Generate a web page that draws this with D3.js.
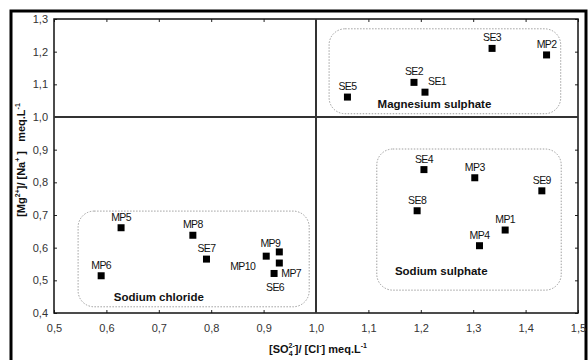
<!DOCTYPE html>
<html>
<head>
<meta charset="utf-8">
<script src="https://cdn.jsdelivr.net/npm/d3@7"></script>
<style>
  body { margin: 0; background: #fff; }
  svg { display: block; font-family: "Liberation Sans", Arial, sans-serif; }
</style>
</head>
<body>
<div id="wrapper"></div>
<script>
// sample names and ratios
const names = ["SE1","SE2","SE3","SE5","MP2",
               "SE4","MP3","SE9","SE8","MP1","MP4",
               "MP5","MP6","MP8","SE7","MP10","MP9","MP7","SE6"];
const so4cl = [1.208,1.187,1.336,1.060,1.440,
               1.206,1.303,1.431,1.193,1.361,1.312,
               0.628,0.590,0.765,0.791,0.905,0.930,0.930,0.920];
const mgna  = [1.076,1.106,1.210,1.061,1.190,
               0.839,0.814,0.774,0.713,0.654,0.606,
               0.661,0.514,0.638,0.565,0.574,0.587,0.553,0.521];

const xTicks = [0.5,0.6,0.7,0.8,0.9,1.0,1.1,1.2,1.3,1.4,1.5];
const yTicks = [0.4,0.5,0.6,0.7,0.8,0.9,1.0,1.1,1.2,1.3];

// grouping boxes (data units) and their captions
const groupNames = ["Magnesium sulphate","Sodium sulphate","Sodium chloride"];
const groupX = [[1.025,1.467],[1.116,1.468],[0.546,0.987]];
const groupY = [[1.010,1.270],[0.470,0.902],[0.419,0.712]];
const groupLabelX = [1.226,1.239,0.700];
const groupLabelY = [1.027,0.516,0.437];

const data = names.map((n, i) => ({name: n, x: so4cl[i], y: mgna[i]}));

const width = 588, height = 360;
const margin = {top: 19, right: 10, bottom: 47, left: 54};
const boundedWidth = 524, boundedHeight = 294;

const svg = d3.select("#wrapper").append("svg")
    .attr("width", width)
    .attr("height", height);

// outer frame
svg.append("rect")
    .attr("x", 11).attr("y", 11)
    .attr("width", 575).attr("height", 420)
    .attr("fill", "none")
    .attr("stroke", "#000")
    .attr("stroke-width", 3);

const bounded = svg.append("g")
    .attr("transform", `translate(${margin.left},${margin.top})`);

const xScale = d3.scaleLinear().domain([0.5, 1.5]).range([0, boundedWidth]);
const yScale = d3.scaleLinear().domain([0.4, 1.3]).range([boundedHeight, 0]);

const fmt = d => d3.format(".1f")(d).replace(".", ",");

// axes, ticks pointing inwards
const xAxis = bounded.append("g")
    .attr("transform", `translate(0,${boundedHeight})`)
    .call(d3.axisBottom(xScale).tickValues(xTicks).tickFormat(fmt)
        .tickSizeInner(-3).tickSizeOuter(0).tickPadding(11));
const yAxis = bounded.append("g")
    .call(d3.axisLeft(yScale).tickValues(yTicks).tickFormat(fmt)
        .tickSizeInner(-3).tickSizeOuter(0).tickPadding(6));
const xTop = bounded.append("g")
    .call(d3.axisTop(xScale).tickValues(xTicks).tickFormat("")
        .tickSizeInner(-3).tickSizeOuter(0));
const yRight = bounded.append("g")
    .attr("transform", `translate(${boundedWidth},0)`)
    .call(d3.axisRight(yScale).tickValues(yTicks).tickFormat("")
        .tickSizeInner(-3).tickSizeOuter(0));

[xAxis, yAxis, xTop, yRight].forEach(a => {
    a.select(".domain").remove();
    a.selectAll(".tick line").attr("stroke", "#222");
    a.selectAll(".tick text")
        .attr("fill", "#333")
        .style("font-size", "11px")
        .style("font-family", "'Liberation Sans', Arial, sans-serif");
});

// plot frame
bounded.append("rect")
    .attr("width", boundedWidth).attr("height", boundedHeight)
    .attr("fill", "none")
    .attr("stroke", "#111")
    .attr("stroke-width", 1.5);

// reference lines at 1,0
bounded.append("line")
    .attr("x1", xScale(1)).attr("x2", xScale(1))
    .attr("y1", 0).attr("y2", boundedHeight)
    .attr("stroke", "#333").attr("stroke-width", 2);
bounded.append("line")
    .attr("x1", 0).attr("x2", boundedWidth)
    .attr("y1", yScale(1)).attr("y2", yScale(1))
    .attr("stroke", "#333").attr("stroke-width", 2);

// dotted group boxes
groupNames.forEach((g, i) => {
    const x0 = xScale(groupX[i][0]), x1 = xScale(groupX[i][1]);
    const y0 = yScale(groupY[i][1]), y1 = yScale(groupY[i][0]);
    bounded.append("rect")
        .attr("x", x0).attr("y", y0)
        .attr("width", x1 - x0).attr("height", y1 - y0)
        .attr("rx", 16).attr("ry", 16)
        .attr("fill", "none")
        .attr("stroke", "#888")
        .attr("stroke-width", 0.8)
        .attr("stroke-dasharray", "1.5,1.5");
    bounded.append("text")
        .attr("x", xScale(groupLabelX[i]))
        .attr("y", yScale(groupLabelY[i]))
        .attr("text-anchor", "middle")
        .attr("font-size", 11.5)
        .attr("font-weight", "bold")
        .attr("fill", "#111")
        .text(g);
});

// points
bounded.selectAll(".pt").data(data).join("rect")
    .attr("class", "pt")
    .attr("x", d => xScale(d.x) - 3.5)
    .attr("y", d => yScale(d.y) - 3.5)
    .attr("width", 7).attr("height", 7)
    .attr("fill", "#000");

// label placement (pixel nudges for a few crowded points)
const labelPlace = {
    SE1: {anchor: "start", dx: 3, dy: -7},
    MP10: {anchor: "end", dx: -11, dy: 14},
    MP7: {anchor: "start", dx: 2, dy: 14},
    SE6: {anchor: "middle", dx: 1, dy: 18},
    MP9: {anchor: "middle", dx: -9, dy: -5}
};

bounded.selectAll(".lbl").data(data).join("text")
    .attr("class", "lbl")
    .attr("x", d => xScale(d.x) + (labelPlace[d.name] ? labelPlace[d.name].dx : 0))
    .attr("y", d => yScale(d.y) + (labelPlace[d.name] ? labelPlace[d.name].dy : -7))
    .attr("text-anchor", d => labelPlace[d.name] ? labelPlace[d.name].anchor : "middle")
    .attr("font-size", 10.5)
    .attr("letter-spacing", -0.6)
    .attr("fill", "#111")
    .text(d => d.name);

// x title
const xt = svg.append("text")
    .attr("x", 318).attr("y", 353)
    .attr("text-anchor", "middle")
    .attr("font-size", 11)
    .attr("font-weight", "bold")
    .attr("fill", "#111");
xt.append("tspan").text("[SO");
xt.append("tspan").attr("font-size", 7).attr("dy", 3).text("4");
xt.append("tspan").attr("font-size", 7).attr("dx", -4).attr("dy", -8).text("2-");
xt.append("tspan").attr("dy", 5).text("]/ [Cl");
xt.append("tspan").attr("font-size", 7).attr("dy", -5).text("-");
xt.append("tspan").attr("dy", 5).text("] meq.L");
xt.append("tspan").attr("font-size", 7).attr("dy", -5).text("-1");

// y title
const yt = svg.append("text")
    .attr("transform", "translate(25,160) rotate(-90)")
    .attr("text-anchor", "middle")
    .attr("font-size", 11)
    .attr("font-weight", "bold")
    .attr("fill", "#111")
    .attr("xml:space", "preserve");
yt.append("tspan").text("[Mg");
yt.append("tspan").attr("font-size", 7).attr("dy", -5).text("2+");
yt.append("tspan").attr("dy", 5).text("]/ [Na");
yt.append("tspan").attr("font-size", 7).attr("dy", -5).text("+");
yt.append("tspan").attr("dy", 5).text(" ]   meq.L");
yt.append("tspan").attr("font-size", 7).attr("dy", -5).text("-1");
</script>
</body>
</html>
